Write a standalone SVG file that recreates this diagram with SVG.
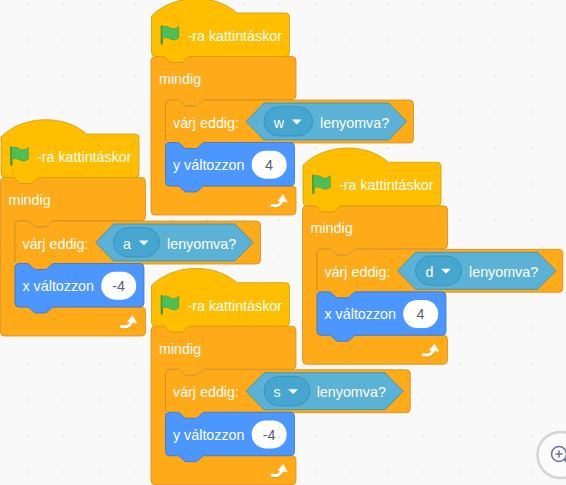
<svg xmlns="http://www.w3.org/2000/svg" xmlns:xlink="http://www.w3.org/1999/xlink" width="566" height="485" viewBox="0 0 566 485">
<style>
text{font-family:"Liberation Sans",Arial,sans-serif;font-size:14.3px;fill:#fff}
.hat{fill:#FFBF00;stroke:#CC9900;stroke-width:.75}
.ctl{fill:#FFAB19;stroke:#CF8B17;stroke-width:.75}
.mot{fill:#4C97FF;stroke:#3373CC;stroke-width:.75}
.bool{fill:#5CB1D6;stroke:#2E8EB8;stroke-width:.75;stroke-linejoin:round}
.dd{fill:#47A6CF;stroke:#2E8EB8;stroke-width:.75}
.val{fill:#575E75;text-anchor:middle}
.mid{text-anchor:middle}
</style>
<defs>
<pattern id="grid" x="27" y="4" width="36" height="36" patternUnits="userSpaceOnUse" patternTransform="translate(-2 -2)">
<path d="M2 0.5V3.500M0.5 2H3.500" stroke="#E2E2E2" stroke-width="0.7" fill="none"/>
</pattern>
<g id="flag">
<path d="M10.800 13.500V30.500" stroke="#45993D" stroke-width="2.400" stroke-linecap="round" fill="none"/>
<path d="M10.800 14c3.500-1.500 6-.5 8.500 1s5.500 1 8.500-1.500V25c-3 2.200-5.800 2.500-8.500 1s-5-2-8.500-.5z" fill="#4CBF56" stroke="#45993D" stroke-width=".6"/>
</g>
<g id="base">
<path class="ctl" d="M0 47.500a4 4 0 0 1 4-4h8c1.500 0 2.250.75 3 1.500l3 3c.75.75 1.500 1.500 3 1.500h9c1.500 0 2.250-.75 3-1.500l3-3c.75-.75 1.500-1.500 3-1.500H141a4 4 0 0 1 4 4V82.500a4 4 0 0 1-4 4H53.500c-1.500 0-2.250.75-3 1.500l-3 3c-.75.75-1.500 1.500-3 1.500h-9c-1.500 0-2.250-.75-3-1.500l-3-3c-.75-.75-1.500-1.500-3-1.500H18.500a4 4 0 0 0-4 4V169a4 4 0 0 0 4 4H141a4 4 0 0 1 4 4V198a4 4 0 0 1-4 4H4a4 4 0 0 1-4-4Z"/>
<path class="hat" d="M.5 3C22-19 64-20 86 0H134.500a4 4 0 0 1 4 4V39.500a4 4 0 0 1-4 4H39c-1.500 0-2.250.75-3 1.500l-3 3c-.75.75-1.500 1.500-3 1.500h-9c-1.500 0-2.250-.75-3-1.500l-3-3c-.75-.75-1.500-1.500-3-1.500H4.500a4 4 0 0 1-4-4Z"/>
<use xlink:href="#flag" href="#flag"/>
<text x="36.500" y="28">-ra kattintáskor</text>
<text x="8" y="71">mindig</text>
<path d="M121 192.500Q128.500 194.500 131.500 187" stroke="#CF8B17" stroke-width="3" fill="none" transform="translate(0 .8)"/>
<path d="M121 192.500Q128.500 194.500 131.500 187" stroke="#fff" stroke-width="3" fill="none" stroke-linecap="round"/>
<path d="M127 187.800L132 181.800L136.300 189Z" fill="#fff" stroke="#fff" stroke-width=".6" stroke-linejoin="round"/>
</g>
<g id="move">
<path class="mot" d="M14.500 133.500a4 4 0 0 1 4-4h8c1.500 0 2.250.75 3 1.500l3 3c.75.75 1.500 1.500 3 1.500h9c1.500 0 2.250-.75 3-1.500l3-3c.75-.75 1.500-1.500 3-1.500H139.500a4 4 0 0 1 4 4V169a4 4 0 0 1-4 4H53.500c-1.500 0-2.250.75-3 1.500l-3 3c-.75.75-1.500 1.500-3 1.500h-9c-1.500 0-2.250-.75-3-1.500l-3-3c-.75-.75-1.500-1.500-3-1.500H18.500a4 4 0 0 1-4-4Z"/>
<rect x="100.700" y="137.700" width="35" height="28" rx="14" fill="#fff"/>
</g>
<path id="tri" d="M0 0h9.500l-4 4.200a1 1 0 0 1-1.500 0Z" fill="#fff"/>
</defs>
<rect width="566" height="485" fill="#F9F9F9"/>
<rect width="566" height="485" fill="url(#grid)"/>
<g id="stack-w" transform="translate(151 13)">
<use xlink:href="#base" href="#base"/>
<path class="ctl" d="M14.500 91a4 4 0 0 1 4-4h8c1.500 0 2.250.75 3 1.500l3 3c.75.75 1.500 1.500 3 1.500h9c1.500 0 2.250-.75 3-1.500l3-3c.75-.75 1.500-1.500 3-1.500H258.500a4 4 0 0 1 4 4V126a4 4 0 0 1-4 4H53.500c-1.500 0-2.250.75-3 1.500l-3 3c-.75.75-1.500 1.500-3 1.500h-9c-1.500 0-2.250-.75-3-1.500l-3-3c-.75-.75-1.500-1.500-3-1.500H18.500a4 4 0 0 1-4-4Z"/>
<text x="22" y="114.500">várj eddig:</text>
<path class="bool" d="M95 108.500L113 90H237.500L255.700 108.500L237.500 127H113Z"/>
<rect class="dd" x="113" y="93.700" width="48.700" height="29.300" rx="14.600"/>
<text class="mid" x="128" y="114.500">w</text>
<use xlink:href="#tri" href="#tri" transform="translate(141 106.500)"/>
<text x="169" y="114.500">lenyomva?</text>
<use xlink:href="#move" href="#move"/>
<text x="22" y="157">y változzon</text>
<text class="val" x="118" y="157">4</text>
</g>
<g id="stack-a" transform="translate(.5 134)">
<use xlink:href="#base" href="#base"/>
<path class="ctl" d="M14.500 91a4 4 0 0 1 4-4h8c1.500 0 2.250.75 3 1.500l3 3c.75.75 1.500 1.500 3 1.500h9c1.500 0 2.250-.75 3-1.500l3-3c.75-.75 1.500-1.500 3-1.500H256a4 4 0 0 1 4 4V126a4 4 0 0 1-4 4H53.500c-1.500 0-2.250.75-3 1.500l-3 3c-.75.75-1.500 1.500-3 1.500h-9c-1.500 0-2.250-.75-3-1.500l-3-3c-.75-.75-1.500-1.500-3-1.500H18.500a4 4 0 0 1-4-4Z"/>
<text x="22" y="114.500">várj eddig:</text>
<path class="bool" d="M95 108.500L113 90H234.500L252.700 108.500L234.500 127H113Z"/>
<rect class="dd" x="113" y="93.700" width="46" height="29.300" rx="14.600"/>
<text class="mid" x="126.500" y="114.500">a</text>
<use xlink:href="#tri" href="#tri" transform="translate(138.500 106.500)"/>
<text x="166.500" y="114.500">lenyomva?</text>
<use xlink:href="#move" href="#move"/>
<text x="22" y="157">x változzon</text>
<text class="val" x="118" y="157">-4</text>
</g>
<g id="stack-d" transform="translate(302.500 162.300)">
<use xlink:href="#base" href="#base"/>
<path class="ctl" d="M14.500 91a4 4 0 0 1 4-4h8c1.500 0 2.250.75 3 1.500l3 3c.75.75 1.500 1.500 3 1.500h9c1.500 0 2.250-.75 3-1.500l3-3c.75-.75 1.500-1.500 3-1.500H256.300a4 4 0 0 1 4 4V126a4 4 0 0 1-4 4H53.500c-1.500 0-2.250.75-3 1.500l-3 3c-.75.75-1.500 1.500-3 1.500h-9c-1.500 0-2.250-.75-3-1.500l-3-3c-.75-.75-1.500-1.500-3-1.500H18.500a4 4 0 0 1-4-4Z"/>
<text x="22" y="114.500">várj eddig:</text>
<path class="bool" d="M95 108.500L113 90H235L253.500 108.500L235 127H113Z"/>
<rect class="dd" x="113" y="93.700" width="46" height="29.300" rx="14.600"/>
<text class="mid" x="127" y="114.500">d</text>
<use xlink:href="#tri" href="#tri" transform="translate(138.700 106.500)"/>
<text x="166.500" y="114.500">lenyomva?</text>
<use xlink:href="#move" href="#move"/>
<text x="22" y="157">x változzon</text>
<text class="val" x="118" y="157">4</text>
</g>
<g id="stack-s" transform="translate(151 282.700)">
<use xlink:href="#base" href="#base"/>
<path class="ctl" d="M14.500 91a4 4 0 0 1 4-4h8c1.500 0 2.250.75 3 1.500l3 3c.75.75 1.500 1.500 3 1.500h9c1.500 0 2.250-.75 3-1.500l3-3c.75-.75 1.500-1.500 3-1.500H255.300a4 4 0 0 1 4 4V126a4 4 0 0 1-4 4H53.500c-1.500 0-2.250.75-3 1.500l-3 3c-.75.75-1.500 1.500-3 1.500h-9c-1.500 0-2.250-.75-3-1.500l-3-3c-.75-.75-1.500-1.500-3-1.500H18.500a4 4 0 0 1-4-4Z"/>
<text x="22" y="114.500">várj eddig:</text>
<path class="bool" d="M95 108.500L113 90H234L252.300 108.500L234 127H113Z"/>
<rect class="dd" x="113" y="93.700" width="46" height="29.300" rx="14.600"/>
<text class="mid" x="126" y="114.500">s</text>
<use xlink:href="#tri" href="#tri" transform="translate(137.300 106.500)"/>
<text x="165.700" y="114.500">lenyomva?</text>
<use xlink:href="#move" href="#move"/>
<text x="22" y="157">y változzon</text>
<text class="val" x="118" y="157">-4</text>
</g>
<g id="zoom-control">
<circle cx="560.500" cy="455" r="23" fill="#FBFBFB" stroke="#D4D4D4" stroke-width="2.500"/>
<circle cx="559" cy="454" r="7.500" fill="none" stroke="#6B7290" stroke-width="1.500"/>
<path d="M559 450.500V457.500M555.500 454H562.500" stroke="#6B7290" stroke-width="1.500" fill="none"/>
<path d="M564.500 459.500L568 463" stroke="#6B7290" stroke-width="2" fill="none"/>
</g>
</svg>
